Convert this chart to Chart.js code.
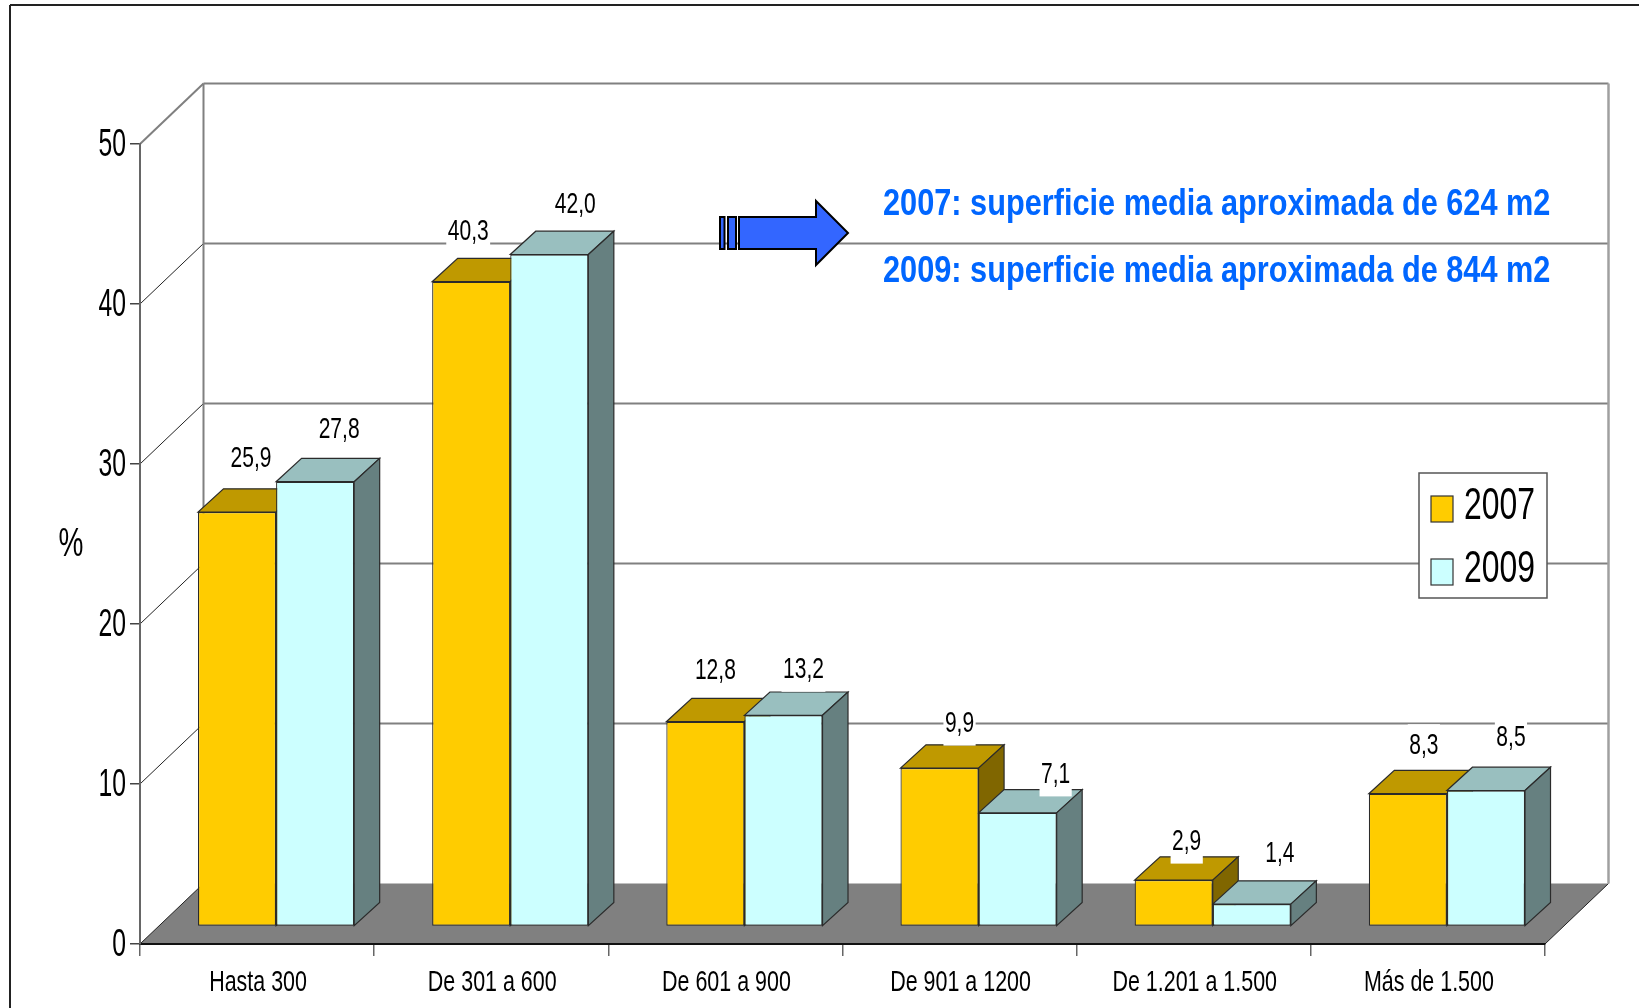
<!DOCTYPE html>
<html>
<head>
<meta charset="utf-8">
<title>Superficie media</title>
<script src="https://cdn.jsdelivr.net/npm/chart.js@4"></script>
<style>
  html, body { margin: 0; padding: 0; background: #fff; overflow: hidden; }
  canvas { display: block; }
</style>
</head>
<body>
<canvas id="myChart" width="1639" height="1008"></canvas>
<script>
const categories = ['Hasta 300', 'De 301 a 600', 'De 601 a 900', 'De 901 a 1200', 'De 1.201 a 1.500', 'Más de 1.500'];
const values2007 = [25.9, 40.3, 12.8, 9.9, 2.9, 8.3];
const values2009 = [27.8, 42.0, 13.2, 7.1, 1.4, 8.5];
const seriesNames = ['2007', '2009'];
const axisTitle = '%';
const noteLines = ['2007: superficie media aproximada de 624 m2', '2009: superficie media aproximada de 844 m2'];

// 3d look, in pixels
const wallDx = 63.5, wallDy = 60.5;   // front plane to back wall
const barShiftX = 19, barShiftY = 17.5; // front plane to front of the bars
const barDepthX = 25.5, barDepthY = 23.3;

// hand placed data labels in the original, relative to the top centre of each bar
const labelNudge = [
  [[14, -54], [-3, -50], [10, -51], [20, -45], [13, -39], [16, -48]],
  [[24, -52], [26, -50], [20, -46], [38, -39], [28, -51], [25, -53]]
];

const faceColors = [
  { top: '#bf9900', side: '#806600' },
  { top: '#99bfbf', side: '#668080' }
];
const edgeColor = '#2b2b2b';
const FONT = '"Liberation Sans", Arial, sans-serif';

function narrowText(ctx, str, x, y, font, sx, align, color) {
  ctx.save();
  ctx.font = font;
  ctx.fillStyle = color || '#000';
  ctx.textAlign = align || 'center';
  ctx.textBaseline = 'middle';
  ctx.translate(x, y + 3);
  ctx.scale(sx, 1);
  ctx.fillText(str, 0, 0);
  ctx.restore();
}

function line(ctx, x1, y1, x2, y2, color, width) {
  ctx.strokeStyle = color;
  ctx.lineWidth = width;
  ctx.beginPath();
  ctx.moveTo(x1, y1);
  ctx.lineTo(x2, y2);
  ctx.stroke();
}

function poly(ctx, pts, fill, stroke, width) {
  ctx.beginPath();
  ctx.moveTo(pts[0][0], pts[0][1]);
  for (let i = 1; i < pts.length; ++i) ctx.lineTo(pts[i][0], pts[i][1]);
  ctx.closePath();
  ctx.fillStyle = fill;
  ctx.fill();
  if (stroke) {
    ctx.strokeStyle = stroke;
    ctx.lineWidth = width;
    ctx.lineJoin = 'miter';
    ctx.stroke();
  }
}

const scene3d = {
  id: 'scene3d',
  beforeDraw(chart) {
    const ctx = chart.ctx;
    const { left, right, top, bottom } = chart.chartArea;
    const y = chart.scales.y;
    ctx.save();
    ctx.fillStyle = '#fff';
    ctx.fillRect(0, 0, chart.width, chart.height);

    // outer frame, cut off at the page edge
    line(ctx, 10, 1008, 10, 5, '#222', 2);
    line(ctx, 10, 5, 1639, 5, '#222', 2);

    // floor
    poly(ctx, [[left, bottom], [right, bottom], [right + wallDx, bottom - wallDy], [left + wallDx, bottom - wallDy]], '#808080');
    line(ctx, right, bottom, right + wallDx, bottom - wallDy, '#222', 1);

    // walls and grid
    y.ticks.forEach(function (t) {
      const py = y.getPixelForValue(t.value);
      if (t.value > 0) {
        line(ctx, left + wallDx, py - wallDy, right + wallDx, py - wallDy, '#808080', 2);
      }
      const top50 = t.value === y.max;
      line(ctx, left, py, left + wallDx, py - wallDy, top50 ? '#808080' : '#222', top50 ? 2 : 1);
    });
    line(ctx, left + wallDx, top - wallDy, left + wallDx, bottom - wallDy, '#808080', 2);
    line(ctx, right + wallDx, top - wallDy, right + wallDx, bottom - wallDy, '#a0a0a0', 2.5);
    ctx.restore();
  },
  beforeDatasetsDraw(chart) {
    const ctx = chart.ctx;
    ctx.save();
    ctx.translate(barShiftX, -barShiftY);
    // top and side faces, the library draws the fronts over them
    chart.data.datasets.forEach(function (ds, d) {
      chart.getDatasetMeta(d).data.forEach(function (bar) {
        const l = bar.x - bar.width / 2, r = bar.x + bar.width / 2;
        poly(ctx, [[l, bar.y], [r, bar.y], [r + barDepthX, bar.y - barDepthY], [l + barDepthX, bar.y - barDepthY]], faceColors[d].top, edgeColor, 1.2);
        poly(ctx, [[r, bar.y], [r + barDepthX, bar.y - barDepthY], [r + barDepthX, bar.base - barDepthY], [r, bar.base]], faceColors[d].side, edgeColor, 1.2);
      });
    });
  },
  afterDatasetsDraw(chart) {
    const ctx = chart.ctx;
    ctx.restore();
    ctx.save();

    // data labels
    const labelFont = '30px ' + FONT;
    chart.data.datasets.forEach(function (ds, d) {
      chart.getDatasetMeta(d).data.forEach(function (bar, i) {
        const str = ds.data[i].toFixed(1).replace('.', ',');
        const x = bar.x + barShiftX + labelNudge[d][i][0];
        const y = bar.y - barShiftY + labelNudge[d][i][1] - 2.5;
        ctx.font = labelFont;
        const w = ctx.measureText(str).width * 0.7 + 3;
        ctx.fillStyle = '#fff';
        ctx.fillRect(x - w / 2, y - 19, w, 44);
        narrowText(ctx, str, x, y, labelFont, 0.7);
      });
    });

    // tick labels
    const yScale = chart.scales.y, xScale = chart.scales.x;
    yScale.ticks.forEach(function (t) {
      narrowText(ctx, String(t.value), 126, yScale.getPixelForValue(t.value) - 1, '38px ' + FONT, 0.65, 'right');
    });
    categories.forEach(function (c, i) {
      narrowText(ctx, c, xScale.getPixelForValue(i) + 1, 979.5, '30px ' + FONT, 0.715);
    });
    narrowText(ctx, axisTitle, 71, 542, '40px ' + FONT, 0.7);

    // arrow
    poly(ctx, [[720, 217], [724.5, 217], [724.5, 249], [720, 249]], '#3366ff', '#000', 2);
    poly(ctx, [[728, 217], [736, 217], [736, 249], [728, 249]], '#3366ff', '#000', 2);
    poly(ctx, [[739, 217], [816, 217], [816, 201], [848, 233], [816, 265], [816, 249], [739, 249]], '#3366ff', '#000', 2);

    // notes
    narrowText(ctx, noteLines[0], 883, 202, 'bold 37px ' + FONT, 0.83, 'left', '#0066ff');
    narrowText(ctx, noteLines[1], 883, 269, 'bold 37px ' + FONT, 0.83, 'left', '#0066ff');

    // legend box
    ctx.fillStyle = '#fff';
    ctx.fillRect(1419, 473, 128, 125);
    ctx.strokeStyle = '#555';
    ctx.lineWidth = 1.5;
    ctx.strokeRect(1419, 473, 128, 125);
    const swatchY = [496, 559], textY = [504, 567];
    chart.data.datasets.forEach(function (ds, d) {
      ctx.fillStyle = ds.backgroundColor;
      ctx.fillRect(1431, swatchY[d], 22, 26);
      ctx.strokeStyle = '#333';
      ctx.lineWidth = 1.2;
      ctx.strokeRect(1431, swatchY[d], 22, 26);
      narrowText(ctx, ds.label, 1464, textY[d], '44px ' + FONT, 0.725, 'left');
    });
    ctx.restore();
  }
};

const config = {
  type: 'bar',
  data: {
    labels: categories,
    datasets: [
      { label: seriesNames[0], data: values2007, backgroundColor: '#ffcc00' },
      { label: seriesNames[1], data: values2009, backgroundColor: '#ccffff' }
    ]
  },
  options: {
    responsive: false,
    animation: false,
    layout: { padding: { left: 140, top: 144, right: 94, bottom: 64 } },
    datasets: {
      bar: {
        categoryPercentage: 0.667,
        barPercentage: 1,
        borderColor: edgeColor,
        borderWidth: 1.2,
        borderSkipped: false,
        clip: false
      }
    },
    plugins: {
      legend: { display: false },
      title: { display: false },
      tooltip: { enabled: false }
    },
    scales: {
      x: {
        afterFit(scale) { scale.height = 0; },
        ticks: { display: false, autoSkip: false },
        border: { color: '#111', width: 2 },
        grid: { offset: true, drawOnChartArea: false, tickLength: 12, color: '#666', lineWidth: 1.5 }
      },
      y: {
        min: 0,
        max: 50,
        afterFit(scale) { scale.width = 0; },
        ticks: { display: false, stepSize: 10 },
        border: { color: '#666', width: 2 },
        grid: { drawOnChartArea: false, tickLength: 10, color: '#444', lineWidth: 1.5 }
      }
    }
  },
  plugins: [scene3d]
};

const myChart = new Chart(document.getElementById('myChart'), config);
</script>
</body>
</html>
